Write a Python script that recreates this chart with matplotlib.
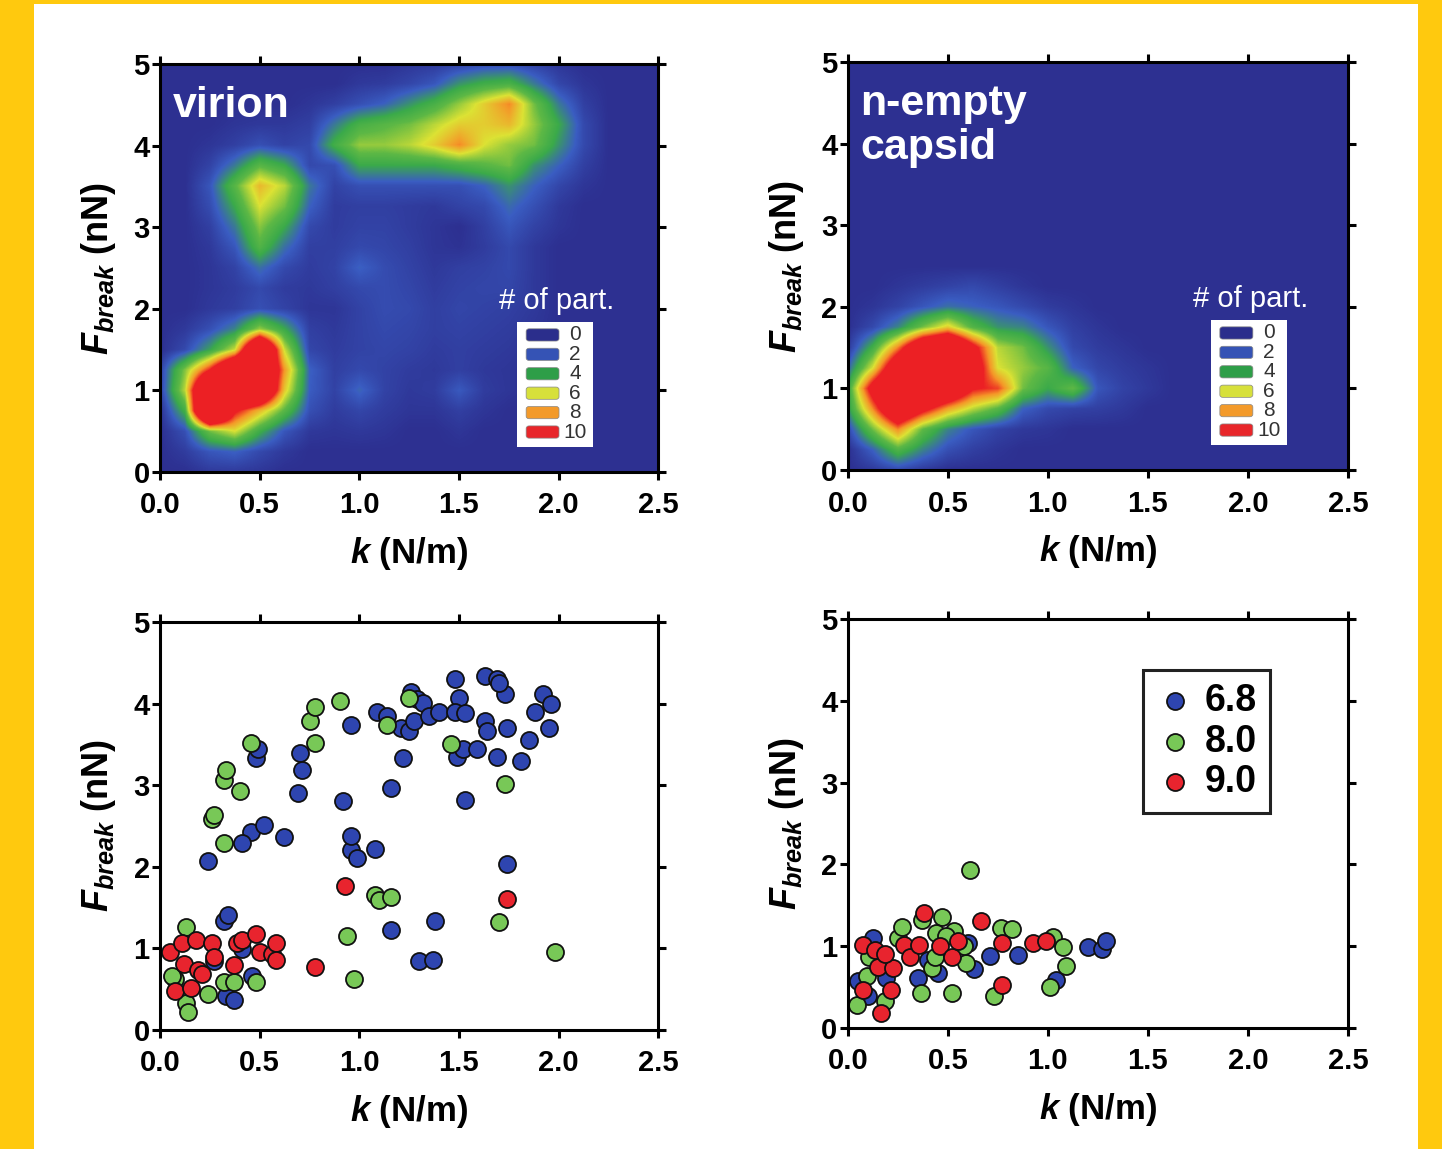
import numpy as np
import matplotlib
matplotlib.use('Agg')
import matplotlib.pyplot as plt
from matplotlib.colors import LinearSegmentedColormap
from matplotlib.patches import Rectangle, FancyBboxPatch

plt.rcParams['font.family'] = ['Liberation Sans', 'DejaVu Sans']
plt.rcParams['mathtext.fontset'] = 'custom'
plt.rcParams['mathtext.it'] = 'Liberation Sans:italic:bold'
plt.rcParams['mathtext.bf'] = 'Liberation Sans:bold'
plt.rcParams['mathtext.rm'] = 'Liberation Sans:bold'

# ---- heat-map grids: rows F = 0, 0.25, ... 5.0 ; cols k = 0, 0.125, ... 2.5
virion_grid = [
    [0, 0, 0.3, 0.3, 0.2, 0, 0, 0, 0, 0, 0, 0, 0, 0, 0, 0, 0, 0, 0, 0, 0],
    [0, 0.4, 1.2, 1.5, 0.8, 0.3, 0, 0, 0, 0, 0, 0, 0, 0, 0, 0, 0, 0, 0, 0, 0],
    [0, 1.0, 4.5, 6, 3.2, 1.2, 0.3, 0.2, 0.3, 0.2, 0, 0, 0.2, 0, 0, 0, 0, 0, 0, 0, 0],
    [0, 3.3, 20, 10, 7, 4.0, 1.0, 0.4, 0.7, 0.4, 0.2, 0.2, 0.5, 0.2, 0, 0, 0, 0, 0, 0, 0],
    [0.5, 5.5, 18, 18, 16, 6.6, 1.4, 0.6, 1.6, 0.6, 0.3, 0.4, 1.3, 0.4, 0.2, 0, 0, 0, 0, 0, 0],
    [0.5, 4.7, 9.5, 16, 16, 7.7, 1.5, 0.5, 0.8, 0.6, 0.4, 0.3, 0.5, 0.3, 0.2, 0, 0, 0, 0, 0, 0],
    [0, 0.8, 2.8, 5.7, 17, 5.7, 0.7, 0.4, 0.6, 0.7, 0.6, 0.4, 0.5, 0.4, 0.3, 0.1, 0, 0, 0, 0, 0],
    [0, 0.3, 1.0, 2.2, 5, 3, 0.5, 0.3, 0.6, 0.8, 0.7, 0.5, 0.6, 0.5, 0.4, 0.2, 0, 0, 0, 0, 0],
    [0, 0, 0.3, 0.5, 1.0, 0.6, 0.2, 0.2, 0.6, 0.9, 0.8, 0.5, 0.7, 0.6, 0.5, 0.3, 0, 0, 0, 0, 0],
    [0, 0, 0.2, 0.4, 0.8, 0.4, 0.3, 0.5, 0.8, 0.9, 0.7, 0.4, 0.6, 0.7, 0.7, 0.3, 0, 0, 0, 0, 0],
    [0, 0, 0.2, 0.6, 1.8, 0.8, 0.4, 0.6, 1.5, 0.9, 0.6, 0.3, 0.5, 0.6, 0.8, 0.3, 0, 0, 0, 0, 0],
    [0, 0, 0.3, 1.2, 3.8, 1.8, 0.5, 0.5, 0.8, 0.7, 0.5, 0.2, 0.1, 0.4, 0.8, 0.3, 0, 0, 0, 0, 0],
    [0, 0, 0.5, 2.0, 4.8, 3.0, 0.8, 0.4, 0.6, 0.6, 0.4, 0.2, 0, 0.5, 1.2, 0.6, 0.2, 0, 0, 0, 0],
    [0, 0, 0.9, 3.0, 6.0, 4.5, 1.5, 0.4, 0.5, 0.5, 0.4, 0.3, 0.6, 0.8, 1.7, 1.0, 0.3, 0, 0, 0, 0],
    [0, 0, 1.2, 4.0, 7.0, 5.5, 2.0, 0.6, 1.0, 1.0, 1.0, 1.0, 1.0, 1.5, 2.5, 1.5, 0.7, 0.2, 0, 0, 0],
    [0, 0, 0.6, 2.0, 4.0, 3.0, 0.8, 1.0, 3.0, 3.0, 3.0, 3.0, 3.5, 4.0, 4.5, 2.5, 1.5, 0.5, 0, 0, 0],
    [0, 0, 0.2, 0.5, 1.0, 0.6, 0.8, 3.3, 5.0, 5.0, 5.5, 6.5, 8.0, 6.0, 5.0, 4.5, 2.5, 0.8, 0, 0, 0],
    [0, 0, 0, 0.2, 0.3, 0.3, 0.5, 2.0, 3.5, 4.0, 4.5, 5.5, 6.5, 6.5, 7.0, 5.0, 3.0, 0.8, 0, 0, 0],
    [0, 0, 0, 0, 0, 0, 0.2, 0.5, 1.0, 1.5, 2.5, 3.5, 5.0, 6.5, 8.0, 4.5, 2.0, 0.5, 0, 0, 0],
    [0, 0, 0, 0, 0, 0, 0, 0, 0.3, 0.4, 0.7, 1.2, 2.5, 3.2, 3.5, 2.0, 0.7, 0.2, 0, 0, 0],
    [0, 0, 0, 0, 0, 0, 0, 0, 0, 0, 0.2, 0.3, 0.5, 0.8, 0.8, 0.5, 0.2, 0, 0, 0, 0],
]

capsid_grid = [
    [0, 0.3, 0.8, 0.3, 0, 0, 0, 0, 0, 0, 0, 0, 0, 0, 0, 0, 0, 0, 0, 0, 0],
    [0, 1.5, 3.8, 2.2, 1.0, 0.5, 0.2, 0, 0, 0, 0, 0, 0, 0, 0, 0, 0, 0, 0, 0, 0],
    [0.8, 4.5, 8, 4.2, 2.2, 1.2, 0.6, 0.3, 0.2, 0, 0, 0, 0, 0, 0, 0, 0, 0, 0, 0, 0],
    [2.5, 8, 14, 10.5, 7.5, 5.5, 4.0, 1.5, 0.8, 0.6, 0.5, 0.3, 0, 0, 0, 0, 0, 0, 0, 0, 0],
    [3.0, 11, 16, 16, 14, 9.8, 9, 4.5, 3.0, 4.2, 1.2, 0.6, 0.3, 0, 0, 0, 0, 0, 0, 0, 0],
    [1.5, 6, 13, 16, 16, 12, 6, 5, 4, 1.5, 0.7, 0.4, 0.2, 0, 0, 0, 0, 0, 0, 0, 0],
    [0.3, 3.3, 8, 14, 16, 10.5, 5.5, 4.5, 2.5, 0.8, 0.4, 0.2, 0, 0, 0, 0, 0, 0, 0, 0, 0],
    [0, 0.8, 2.2, 4.5, 6.5, 3.8, 2.5, 2.2, 1.2, 0.5, 0.2, 0, 0, 0, 0, 0, 0, 0, 0, 0, 0],
    [0, 0.2, 0.6, 1.2, 1.8, 1.5, 1.2, 0.8, 0.4, 0.2, 0, 0, 0, 0, 0, 0, 0, 0, 0, 0, 0],
    [0, 0, 0.2, 0.4, 0.6, 0.8, 0.5, 0.2, 0, 0, 0, 0, 0, 0, 0, 0, 0, 0, 0, 0, 0],
] + [[0] * 21 for _ in range(11)]

# ---- scatter data (k in N/m, Fbreak in nN) per pH
vir_k_68 = [0.24, 0.32, 0.34, 0.33, 0.37, 0.41, 0.27, 0.455, 0.41, 0.52, 0.62, 0.48, 0.49, 0.46, 0.70,
            0.71, 0.69, 0.92, 0.96, 0.96, 0.96, 0.99, 1.08, 1.09, 1.14, 1.16, 1.16, 1.22, 1.21, 1.25,
            1.275, 1.26, 1.29, 1.30, 1.37, 1.38, 1.32, 1.35, 1.40, 1.48, 1.50, 1.48, 1.49, 1.52, 1.59,
            1.53, 1.53, 1.63, 1.69, 1.73, 1.70, 1.63, 1.64, 1.69, 1.74, 1.74, 1.81, 1.85, 1.88, 1.92,
            1.96, 1.95]
vir_F_68 = [2.07, 1.34, 1.41, 0.42, 0.37, 0.99, 0.84, 2.42, 2.29, 2.51, 2.36, 3.33, 3.44, 0.66, 3.39,
            3.19, 2.91, 2.80, 3.74, 2.20, 2.38, 2.11, 2.22, 3.90, 3.85, 2.97, 1.23, 3.33, 3.70, 3.66,
            3.79, 4.14, 4.05, 0.84, 0.86, 1.34, 4.01, 3.85, 3.90, 4.30, 4.07, 3.90, 3.35, 3.44, 3.44,
            3.88, 2.82, 4.34, 4.30, 4.12, 4.25, 3.79, 3.66, 3.35, 3.70, 2.03, 3.30, 3.55, 3.90, 4.12,
            3.99, 3.70]
vir_k_80 = [0.13, 0.074, 0.06, 0.13, 0.14, 0.24, 0.32, 0.37, 0.48, 0.26, 0.27, 0.32, 0.32, 0.33, 0.40,
            0.455, 0.755, 0.78, 0.78, 0.905, 0.94, 0.975, 1.08, 1.10, 1.16, 1.14, 1.25, 1.46, 1.73, 1.70,
            1.98]
vir_F_80 = [1.26, 0.62, 0.66, 0.33, 0.22, 0.44, 0.59, 0.59, 0.59, 2.58, 2.64, 2.29, 3.06, 3.19, 2.93,
            3.52, 3.79, 3.96, 3.52, 4.03, 1.15, 0.62, 1.65, 1.59, 1.63, 3.74, 4.07, 3.50, 3.02, 1.32,
            0.95]
vir_k_90 = [0.05, 0.11, 0.12, 0.074, 0.155, 0.18, 0.19, 0.21, 0.26, 0.27, 0.37, 0.385, 0.41, 0.48, 0.50,
            0.56, 0.58, 0.58, 0.78, 0.93, 1.74]
vir_F_90 = [0.95, 1.06, 0.81, 0.48, 0.51, 1.10, 0.73, 0.68, 1.06, 0.90, 0.79, 1.06, 1.10, 1.17, 0.95,
            0.93, 1.06, 0.86, 0.77, 1.77, 1.60]

cap_k_68 = [0.05, 0.10, 0.126, 0.19, 0.35, 0.40, 0.45, 0.60, 0.63, 0.71, 0.85, 1.04, 1.20, 1.27, 1.29]
cap_F_68 = [0.57, 0.39, 1.10, 0.61, 0.61, 0.83, 0.67, 1.04, 0.72, 0.88, 0.89, 0.59, 0.99, 0.96, 1.06]
cap_k_80 = [0.047, 0.097, 0.104, 0.185, 0.25, 0.27, 0.37, 0.42, 0.366, 0.47, 0.44, 0.437, 0.53, 0.52,
            0.59, 0.613, 0.58, 0.765, 0.82, 0.73, 1.025, 1.075, 1.09, 1.01, 0.49]
cap_F_80 = [0.28, 0.63, 0.87, 0.33, 1.10, 1.23, 1.32, 0.73, 0.43, 1.36, 1.16, 0.87, 1.18, 0.43,
            0.79, 1.93, 1.0, 1.22, 1.21, 0.39, 1.11, 0.99, 0.76, 0.50, 1.13]
cap_k_90 = [0.076, 0.15, 0.076, 0.168, 0.215, 0.227, 0.28, 0.31, 0.356, 0.38, 0.46, 0.52, 0.55, 0.664,
            0.77, 0.773, 0.924, 0.99, 0.134, 0.185]
cap_F_90 = [1.02, 0.75, 0.47, 0.18, 0.47, 0.73, 1.02, 0.87, 1.02, 1.41, 1.0, 0.87, 1.06, 1.31,
            1.04, 0.53, 1.04, 1.06, 0.95, 0.91]

ph_labels = ['6.8', '8.0', '9.0']
ph_colors = ['#2E45B0', '#78C857', '#E8242E']
count_levels = ['0', '2', '4', '6', '8', '10']
level_colors = ['#2B2E8C', '#3553B5', '#2E9E48', '#D7E03B', '#F39A2A', '#E8262A']

k_ticks = [0.0, 0.5, 1.0, 1.5, 2.0, 2.5]
F_ticks = [0, 1, 2, 3, 4, 5]

cmap = LinearSegmentedColormap.from_list(
    'part', [(0.0, '#2D3091'), (0.14, '#3A5DC2'), (0.3, '#3BAA4A'), (0.42, '#5DB845'),
             (0.6, '#DCE234'), (0.78, '#F59628'), (0.95, '#EC2024'), (1.0, '#EC2024')])

fig = plt.figure(figsize=(14.42, 11.49), dpi=100, facecolor='#FFC90E')
fig.add_artist(Rectangle((34 / 1442, 0), (1418 - 34) / 1442, (1149 - 4) / 1149,
                         transform=fig.transFigure, facecolor='white', edgecolor='none', zorder=0))

ax_tl = fig.add_axes([0.111, 0.5892, 0.3454, 0.3551])
ax_tr = fig.add_axes([0.588, 0.5909, 0.3467, 0.3551])
ax_bl = fig.add_axes([0.111, 0.1036, 0.3454, 0.3551])
ax_br = fig.add_axes([0.588, 0.1053, 0.3467, 0.3560])


def style_axes(ax):
    for s in ax.spines.values():
        s.set_linewidth(2.2)
        s.set_zorder(5)
    ax.set_xlim(0, 2.5)
    ax.set_ylim(0, 5)
    ax.set_xticks(k_ticks)
    ax.set_xticklabels(['%.1f' % t for t in k_ticks])
    ax.set_yticks(F_ticks)
    ax.set_yticklabels([str(t) for t in F_ticks])
    ax.tick_params(direction='out', length=6, width=2.2, top=True, right=True,
                   labelsize=21, colors='black')
    ax.tick_params(axis='x', pad=8)
    ax.tick_params(axis='y', pad=1.5)
    for lbl in ax.get_xticklabels() + ax.get_yticklabels():
        lbl.set_fontweight('bold')
    ax.set_xlabel(r'$\mathit{k}$ (N/m)', fontsize=25, fontweight='bold', labelpad=11)
    ax.set_ylabel(r'$\mathit{F}_{\mathit{break}}$ (nN)', fontsize=26, fontweight='bold', labelpad=11)


def heat(ax, grid, title, box_x0):
    ax.imshow(np.array(grid, dtype=float), origin='lower', extent=(-0.0625, 2.5625, -0.125, 5.125),
              cmap=cmap, vmin=0, vmax=10, interpolation='bilinear', aspect='auto', zorder=1)
    style_axes(ax)
    ax.text(0.025, 0.945, title, transform=ax.transAxes, color='white', fontsize=31,
            fontweight='bold', ha='left', va='top', linespacing=1.12)
    ax.text(box_x0 + 0.08, 0.419, '# of part.', transform=ax.transAxes, color='white',
            fontsize=21, ha='center', va='center')
    ax.add_patch(Rectangle((box_x0, 0.061), 0.152, 0.307, transform=ax.transAxes,
                           facecolor='white', edgecolor='none', zorder=3))
    for i, (lev, col) in enumerate(zip(count_levels, level_colors)):
        yc = 0.336 - i * 0.0476
        ax.add_patch(FancyBboxPatch((box_x0 + 0.018, yc - 0.015), 0.066, 0.030,
                                    boxstyle='round,pad=0,rounding_size=0.006',
                                    transform=ax.transAxes, facecolor=col,
                                    edgecolor='#888888', linewidth=0.5, zorder=4))
        ax.text(box_x0 + 0.116, yc, lev, transform=ax.transAxes, fontsize=15,
                color='#333333', ha='center', va='center', zorder=5)


heat(ax_tl, virion_grid, 'virion', 0.717)
heat(ax_tr, capsid_grid, 'n-empty\ncapsid', 0.726)


def scatter_panel(ax, series):
    handles = []
    for (kk, ff), col, lab in zip(series, ph_colors, ph_labels):
        h = ax.scatter(kk, ff, s=150, c=col, edgecolors='#111111', linewidths=1.3,
                       zorder=3, label=lab)
        handles.append(h)
    style_axes(ax)
    return handles


scatter_panel(ax_bl, [(vir_k_68, vir_F_68), (vir_k_80, vir_F_80), (vir_k_90, vir_F_90)])
hs = scatter_panel(ax_br, [(cap_k_68, cap_F_68), (cap_k_80, cap_F_80), (cap_k_90, cap_F_90)])

leg = ax_br.legend(handles=hs, loc='upper left', bbox_to_anchor=(0.59, 0.875),
                   frameon=True, fancybox=False, edgecolor='#222222', framealpha=1,
                   prop={'weight': 'bold', 'size': 27}, handletextpad=0.3,
                   labelspacing=0.12, borderpad=0.35, handlelength=1.0, borderaxespad=0,
                   markerscale=1.0)
leg.get_frame().set_linewidth(2.2)

fig.savefig('out.png', dpi=100, facecolor=fig.get_facecolor())
